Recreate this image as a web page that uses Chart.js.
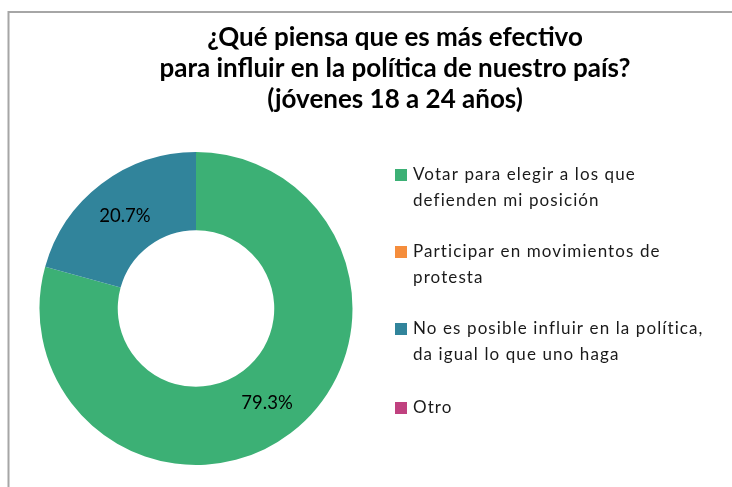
<!DOCTYPE html>
<html>
<head>
<meta charset="utf-8">
<script src="https://cdn.jsdelivr.net/npm/chart.js@4"></script>
<style>
html,body{margin:0;padding:0;background:#fff;}
#wrap{position:relative;width:732px;height:487px;}
</style>
</head>
<body>
<div id="wrap"><canvas id="c" width="732" height="487"></canvas></div>
<script>
const titleLines = ["¿Qué piensa que es más efectivo", "para influir en la política de nuestro país?", "(jóvenes 18 a 24 años)"];
const categories = [
  ["Votar para elegir a los que", "defienden mi posición"],
  ["Participar en movimientos de", "protesta"],
  ["No es posible influir en la política,", "da igual lo que uno haga"],
  ["Otro"]
];
const values = [79.3, 0, 20.7, 0];
const colors = ["#3cb075", "#f58d3c", "#31849b", "#c0417f"];

const framePlugin = {
  id: 'frame',
  beforeDraw(chart) {
    const ctx = chart.ctx;
    ctx.save();
    ctx.fillStyle = '#fff';
    ctx.fillRect(0, 0, chart.width, chart.height);
    ctx.strokeStyle = '#a6a6a6';
    ctx.lineWidth = 2;
    ctx.beginPath();
    ctx.moveTo(8.5, 487);
    ctx.lineTo(8.5, 12);
    ctx.lineTo(732, 12);
    ctx.stroke();
    ctx.restore();
  }
};

const textPlugin = {
  id: 'texts',
  afterDraw(chart) {
    const ctx = chart.ctx;
    ctx.save();
    // title
    ctx.fillStyle = '#000';
    ctx.font = 'bold 26px Lato, "Liberation Sans", sans-serif';
    ctx.textAlign = 'center';
    ctx.textBaseline = 'middle';
    const ty = [38, 69, 100];
    titleLines.forEach((t, i) => ctx.fillText(t, 395, ty[i]));
    // legend
    ctx.textAlign = 'left';
    ctx.font = '17px Lato, "Liberation Sans", sans-serif';
    if ('letterSpacing' in ctx) ctx.letterSpacing = '1.1px';
    const startY = [175, 252, 329, 408];
    categories.forEach((lines, i) => {
      ctx.fillStyle = colors[i];
      ctx.fillRect(395, startY[i] - 6, 12, 12);
      ctx.fillStyle = '#1a1a1a';
      lines.forEach((l, j) => ctx.fillText(l, 413, startY[i] + j * 26));
    });
    if ('letterSpacing' in ctx) ctx.letterSpacing = '0px';
    // data labels
    ctx.textAlign = 'center';
    ctx.font = '18.5px Lato, "Liberation Sans", sans-serif';
    ctx.fillStyle = '#000';
    const meta = chart.getDatasetMeta(0);
    meta.data.forEach((arc, i) => {
      if (values[i] > 0) {
        const p = arc.tooltipPosition();
        ctx.fillText(values[i].toFixed(1) + '%', p.x, p.y + 1);
      }
    });
    ctx.restore();
  }
};

new Chart(document.getElementById('c'), {
  type: 'doughnut',
  data: {
    labels: categories.map(c => c.join(' ')),
    datasets: [{
      data: values,
      backgroundColor: colors,
      borderColor: '#ffffff',
      borderWidth: 0
    }]
  },
  options: {
    responsive: false,
    animation: false,
    cutout: '50%',
    layout: { padding: { left: 39, right: 379, top: 152, bottom: 22 } },
    plugins: {
      legend: { display: false },
      title: { display: false },
      tooltip: { enabled: false }
    }
  },
  plugins: [framePlugin, textPlugin]
});
</script>
</body>
</html>
